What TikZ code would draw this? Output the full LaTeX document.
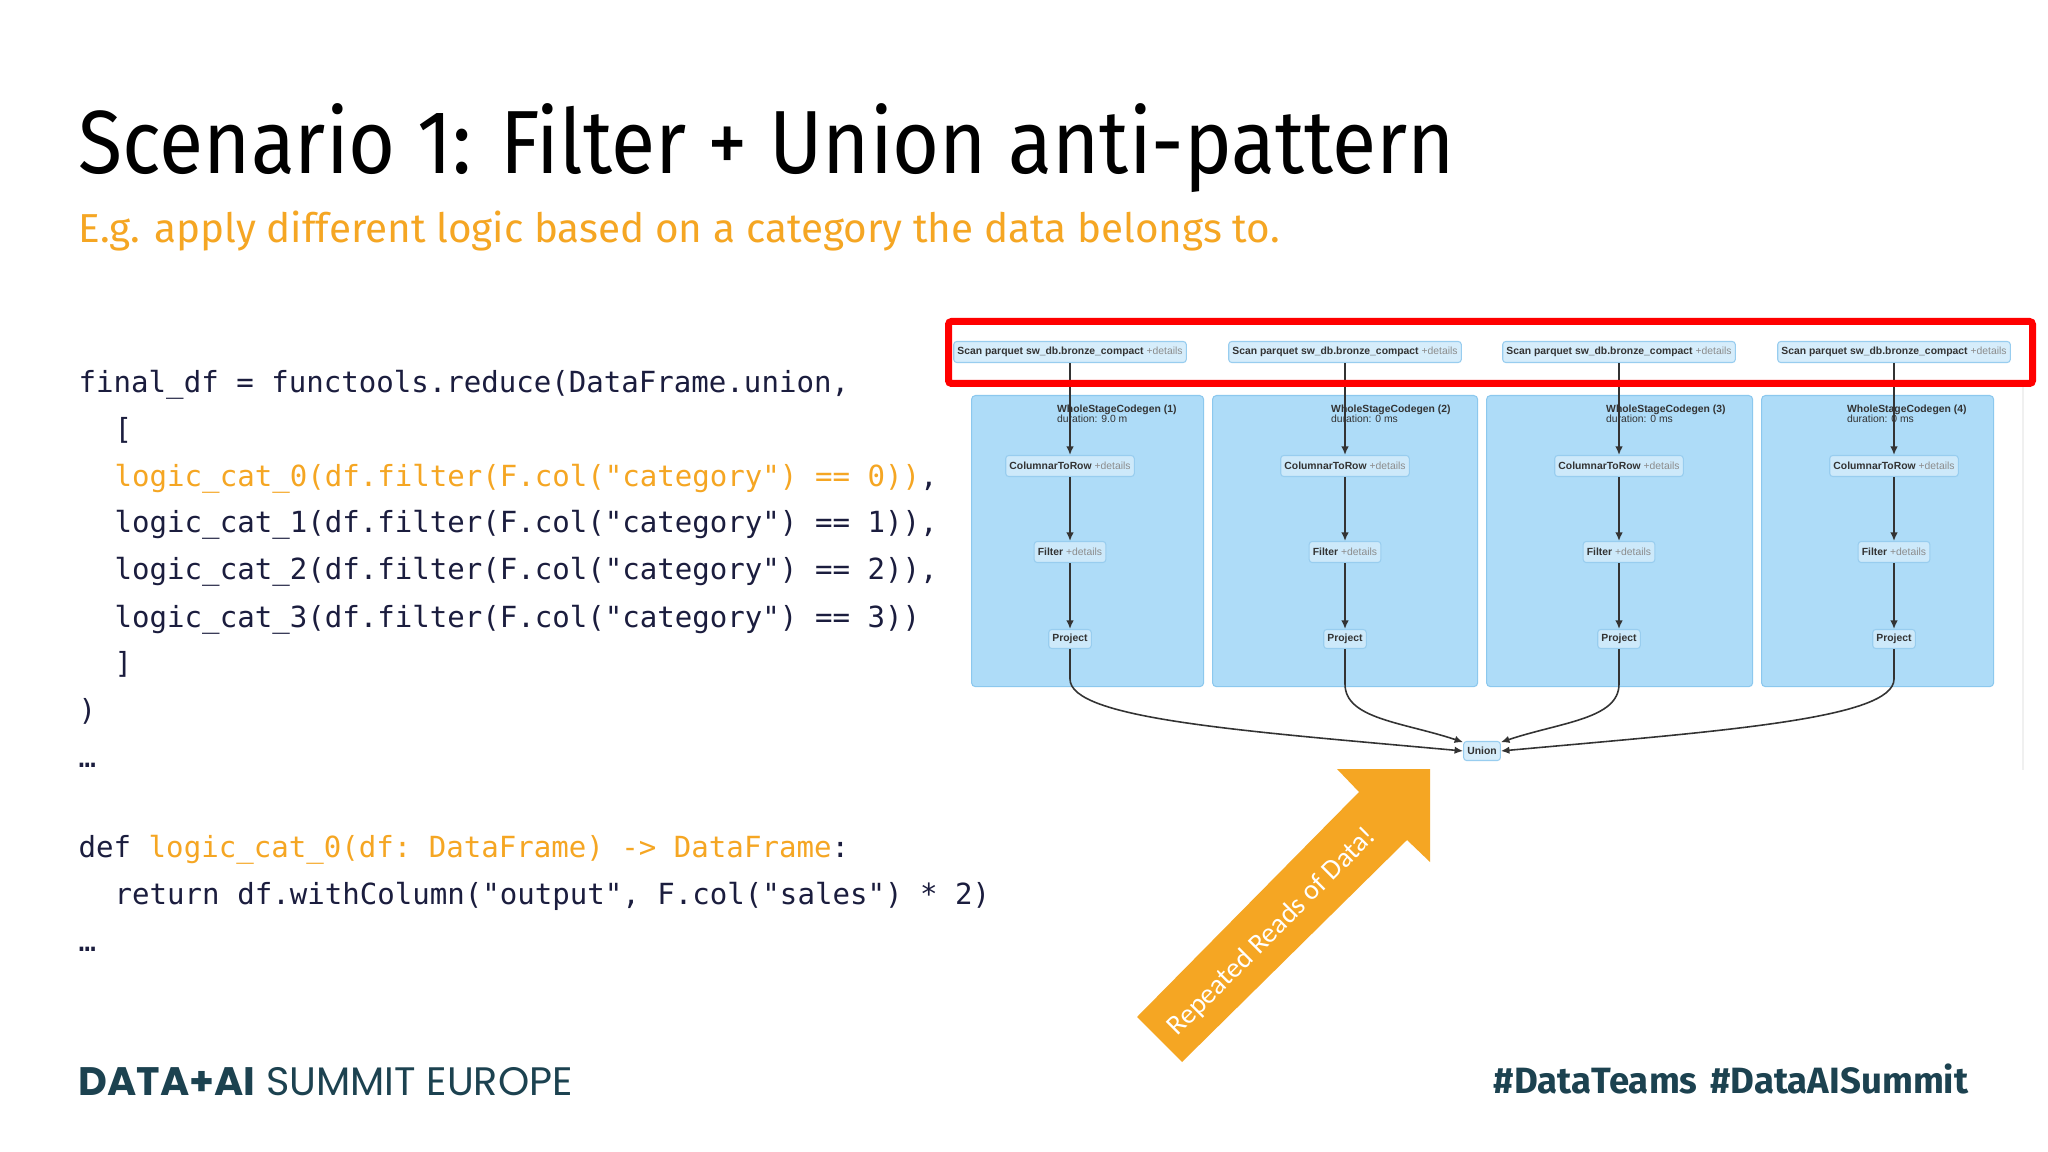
\documentclass[tikz,border=0pt]{standalone}
\usepackage{fontspec}
\usepackage{xcolor}
\usepackage{tikz}
\usetikzlibrary{arrows.meta,positioning,calc}
\setmainfont{Liberation Sans}
\setmonofont{DejaVu Sans Mono}
\newfontfamily\slidefont[FakeStretch=0.9]{Fira Sans}
\newfontfamily\subfont{Fira Sans}
\newfontfamily\footfont{Poppins}
\newfontfamily\tagfont{Fira Sans}
\newfontfamily\calloutfont{Carlito}
\definecolor{dfOrange}{HTML}{F5A623}
\definecolor{dfNavy}{HTML}{1B1D3E}
\definecolor{dfTeal}{HTML}{1C4250}
\definecolor{stageFill}{HTML}{AEDCF8}
\definecolor{stageEdge}{HTML}{8CC8EE}
\definecolor{opFill}{HTML}{CDE9FA}
\definecolor{scanFill}{HTML}{D6EDFB}
\definecolor{opEdge}{HTML}{98CDEF}
\definecolor{sparkText}{HTML}{333333}
\definecolor{sparkGray}{HTML}{8C8C8C}
\definecolor{sparkLine}{HTML}{333333}
\newcommand{\hlcode}[1]{\textcolor{dfOrange}{#1}}
\newcommand{\sparkop}[1]{\textbf{#1} \textcolor{sparkGray}{+details}}

\begin{document}
\begin{tikzpicture}[
  x=0.01cm, y=-0.01cm,
  code/.style={anchor=base west, inner sep=0, text=dfNavy,
    font=\ttfamily\fontsize{8.27pt}{10pt}\selectfont},
  scanbox/.style={draw=opEdge, fill=scanFill, rounded corners=0.03cm,
    line width=0.3pt, inner xsep=0.037cm, inner ysep=0, minimum height=0.21cm,
    text=sparkText, font=\fontsize{2.95pt}{3.4pt}\selectfont},
  opbox/.style={scanbox, fill=opFill},
  stage/.style={draw=stageEdge, fill=stageFill, rounded corners=0.04cm,
    line width=0.3pt, anchor=north west, inner sep=0, minimum height=2.91cm},
  flow/.style={-{Latex[length=0.085cm,width=0.075cm]}, draw=sparkLine, line width=0.45pt},
]

\useasboundingbox (0,0) rectangle (2048,1152);
\fill[white] (0,0) rectangle (2048,1152);

% Title
\node[anchor=base west, inner sep=0, font=\slidefont\fontsize{25.5pt}{30pt}\selectfont] (title) at (78,174)
  {Scenario 1: Filter + Union anti-pattern};
\node[anchor=base west, inner sep=0, text=dfOrange, font=\subfont\fontsize{11.5pt}{14pt}\selectfont] (subtitle) at (78,243)
  {E.g. apply different logic based on a category the data belongs to.};

% Code
\node[code] (code1) at (78,393) {final\_df = functools.reduce(DataFrame.union,};
\node[code] (code2) at (114,440) {[};
\node[code] (code3) at (114,487) {\hlcode{logic\_cat\_0(df.filter(F.col("category") == 0))},};
\node[code] (code4) at (114,533) {logic\_cat\_1(df.filter(F.col("category") == 1)),};
\node[code] (code5) at (114,580) {logic\_cat\_2(df.filter(F.col("category") == 2)),};
\node[code] (code6) at (114,627) {logic\_cat\_3(df.filter(F.col("category") == 3))};
\node[code] (code7) at (114,673) {]};
\node[code] (code8) at (78,720) {)};
\node[code] (code9) at (78,767) {…};
\node[code] (def1) at (78,857) {def \hlcode{logic\_cat\_0(df: DataFrame) -> DataFrame}:};
\node[code] (def2) at (114,904) {return df.withColumn("output", F.col("sales") * 2)};
\node[code] (def3) at (78,951) {…};

% Spark plan
\draw[gray!12, line width=0.5pt] (2023,383) -- (2023,770);
\foreach \i/\x/\l/\w/\d in {1/1070/971/2.32/9.0 m, 2/1345/1212/2.65/0 ms,
                            3/1619/1486/2.66/0 ms, 4/1894/1761/2.32/0 ms} {
  \node[stage, minimum width=\w cm] (w\i) at (\l,395) {};
  \node[anchor=north east, align=left, inner sep=0, text=sparkText,
    font=\fontsize{2.95pt}{2.95pt}\selectfont] (wl\i) at ($(w\i.north east)+(-27,9)$)
    {\textbf{WholeStageCodegen (\i)}\\duration: \d};
  \node[scanbox] (s\i) at (\x,352) {\sparkop{Scan parquet sw\_db.bronze\_compact}};
  \node[opbox] (c\i) at (\x,466) {\sparkop{ColumnarToRow}};
  \node[opbox] (f\i) at (\x,552) {\sparkop{Filter}};
  \node[opbox, minimum height=0.19cm] (p\i) at (\x,639) {\textbf{Project}};
  \draw[flow] (s\i) -- (c\i);
  \draw[flow] (c\i) -- (f\i);
  \draw[flow] (f\i) -- (p\i);
}
\node[scanbox, minimum height=0.19cm] (un) at (1482,751) {\textbf{Union}};

\draw[flow] (p1.south) -- ++(0,30) .. controls +(0,40) and +(-220,-20) .. (un.west);
\draw[flow] (p2.south) -- ++(0,35) .. controls +(0,35) and +(-60,-20) .. (un.155);
\draw[flow] (p3.south) -- ++(0,35) .. controls +(0,35) and +(60,-20) .. (un.25);
\draw[flow] (p4.south) -- ++(0,30) .. controls +(0,40) and +(220,-20) .. (un.east);

% Highlight of the scans
\draw[red, line width=0.07cm, rounded corners=0.03cm] (948.5,321.5) rectangle (2032.5,383.5);

% Callout arrow
\fill[dfOrange] (1137,1017) -- (1359,792) -- (1337,769) -- (1430,769)
  -- (1430,862) -- (1407,840) -- (1182,1062) -- cycle;
\node[rotate=45, text=white, inner sep=0, font=\calloutfont\fontsize{8pt}{9pt}\selectfont] (reads) at (1272,932)
  {Repeated Reads of Data!};

% Footer
\node[anchor=base west, inner sep=0, text=dfTeal, font=\footfont\fontsize{11.3pt}{13pt}\selectfont] (brand) at (78,1095)
  {\textbf{DATA+AI} SUMMIT EUROPE};
\node[anchor=base east, inner sep=0, text=dfTeal, font=\tagfont\bfseries\fontsize{10.4pt}{12pt}\selectfont] (tags) at (1969,1093)
  {\#DataTeams\hspace{0.35em}\#DataAISummit};

\end{tikzpicture}
\end{document}
